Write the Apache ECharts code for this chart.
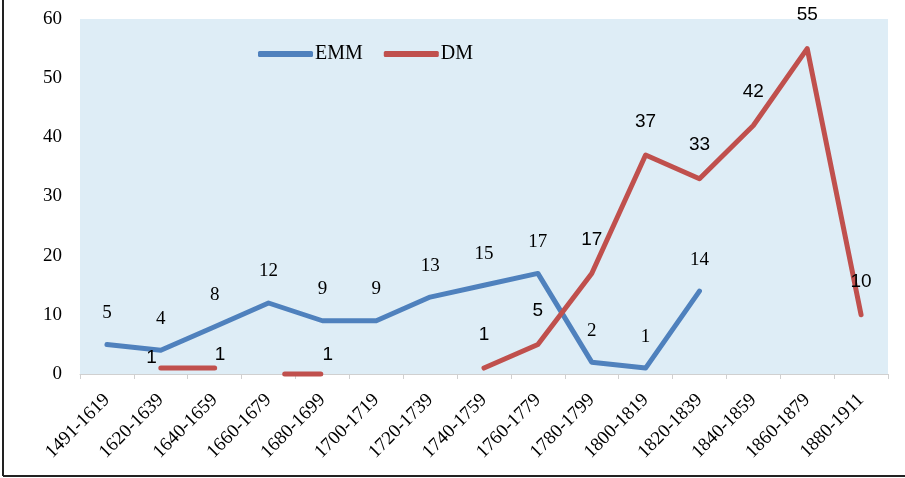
<!DOCTYPE html>
<html>
<head>
<meta charset="utf-8">
<script src="https://cdn.jsdelivr.net/npm/echarts@6/dist/echarts.min.js"></script>
<style>
  html, body { margin: 0; padding: 0; background: #fff; }
  #chart { width: 905px; height: 478px; }
</style>
</head>
<body>
<div id="chart"></div>
<script>
const categories = ['1491-1619','1620-1639','1640-1659','1660-1679','1680-1699','1700-1719','1720-1739','1740-1759','1760-1779','1780-1799','1800-1819','1820-1839','1840-1859','1860-1879','1880-1911'];
const emmValues = [5, 4, 8, 12, 9, 9, 13, 15, 17, 2, 1, 14, null, null, null];
const dmValues  = [null, 1, 1, null, 1, null, null, 1, 5, 17, 37, 33, 42, 55, 10];
// short stray DM stroke drawn on the zero line near 1680-1699 (x in category-index units)
const dmStubX = [3.3, 3.97];
const dmStubY = [0, 0];
const yTicks = { min: 0, max: 60, interval: 10 };

const BLUE = '#4F81BD';
const RED = '#C0504D';
const serif = '"Liberation Serif", "DejaVu Serif", serif';
const sans = '"Liberation Sans", Arial, sans-serif';

// per-point label placement for DM (style only)
const dmLabelTweaks = {
  1: { position: 'left', distance: 4, offset: [0, -10] },
  2: { position: 'right', distance: 0, offset: [0, -13] },
  4: { position: 'right', distance: 0, offset: [0, -13] }
};

const dmData = dmValues.map((v, i) => {
  if (v === null) return null;
  const t = dmLabelTweaks[i];
  return t ? { value: v, label: t } : v;
});

const chart = echarts.init(document.getElementById('chart'), null, { renderer: 'canvas' });
chart.setOption({
  animation: false,
  backgroundColor: '#ffffff',
  grid: {
    left: 80, right: 17, top: 19, bottom: 104,
    show: true, backgroundColor: '#deedf6', borderWidth: 0
  },
  legend: {
    left: 253, top: 39,
    itemWidth: 55, itemHeight: 6, itemGap: 21,
    textStyle: { fontFamily: serif, fontSize: 20, color: '#000', padding: [0, 0, 0, -3] },
    data: [
      { name: 'EMM', icon: 'roundRect', itemStyle: { color: BLUE } },
      { name: 'DM', icon: 'roundRect', itemStyle: { color: RED } }
    ]
  },
  xAxis: [{
    type: 'category',
    data: categories,
    boundaryGap: true,
    axisLine: { show: true, lineStyle: { color: '#d0d0d0', width: 1 } },
    axisTick: { show: true, length: 5, lineStyle: { color: '#d0d0d0' } },
    axisLabel: {
      rotate: 45, margin: 23, interval: 0,
      fontFamily: serif, fontSize: 19, color: '#000'
    }
  }, {
    type: 'value', min: -0.5, max: 14.5, show: false
  }],
  yAxis: {
    type: 'value',
    min: yTicks.min, max: yTicks.max, interval: yTicks.interval,
    splitLine: { show: false },
    axisLine: { show: false },
    axisTick: { show: false },
    axisLabel: { fontFamily: serif, fontSize: 19, color: '#000', margin: 18 }
  },
  graphic: [
    { type: 'line', shape: { x1: 3, y1: 0, x2: 3, y2: 476 }, style: { stroke: '#222', lineWidth: 2 } },
    { type: 'line', shape: { x1: 3, y1: 476, x2: 905, y2: 476 }, style: { stroke: '#222', lineWidth: 2 } }
  ],
  series: [
    {
      name: 'EMM', type: 'line', data: emmValues,
      color: BLUE,
      symbol: 'circle', symbolSize: 0.1, showSymbol: true,
      lineStyle: { width: 5, color: BLUE, cap: 'round', join: 'round' },
      itemStyle: { color: BLUE },
      label: {
        show: true, position: 'top', distance: 22,
        fontFamily: serif, fontSize: 19, color: '#000'
      },
      z: 3
    },
    {
      name: 'DM', type: 'line', data: dmData,
      color: RED,
      symbol: 'circle', symbolSize: 0.1, showSymbol: true,
      lineStyle: { width: 5, color: RED, cap: 'round', join: 'round' },
      itemStyle: { color: RED },
      label: {
        show: true, position: 'top', distance: 24,
        fontFamily: sans, fontSize: 19, color: '#000'
      },
      z: 4
    },
    {
      name: 'DMstub', type: 'line', xAxisIndex: 1,
      data: dmStubX.map((x, i) => [x, dmStubY[i]]),
      symbol: 'none', clip: false,
      lineStyle: { width: 5, color: RED, cap: 'round' },
      itemStyle: { color: RED },
      silent: true, z: 4
    }
  ]
});
</script>
</body>
</html>
